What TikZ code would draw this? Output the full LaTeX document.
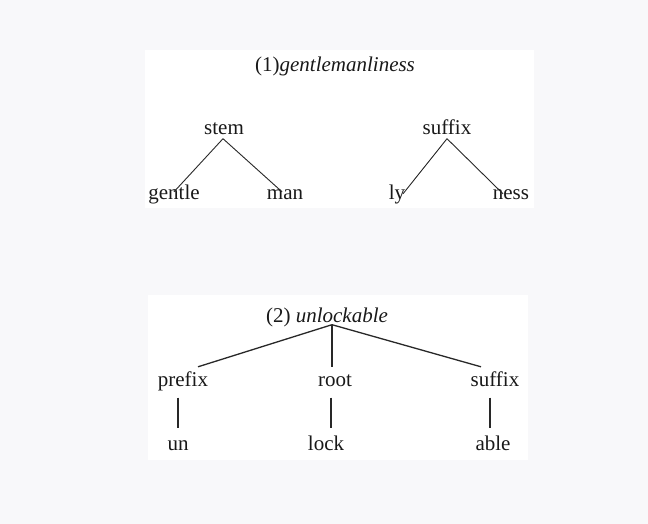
\documentclass[tikz,border=0pt]{standalone}
\usepackage{fontspec}
\setmainfont{Liberation Serif}
\usetikzlibrary{calc}
\definecolor{bgc}{RGB}{248,248,250}
\definecolor{txt}{RGB}{25,25,25}
\definecolor{ln}{RGB}{40,40,40}
\begin{document}
\begin{tikzpicture}[x=1pt,y=-1pt,
  word/.style={anchor=base,inner sep=0pt,text height=0.7em,text depth=0.25em,text=txt,font=\fontsize{21}{25}\selectfont},
  edgeone/.style={draw=ln,line width=0.9pt},
  edgetwo/.style={draw=ln,line width=1.3pt}]
\fill[bgc] (0,0) rectangle (648,524);
\useasboundingbox (0,0) rectangle (648,524);
\fill[white] (145,50) rectangle (534,208);
\fill[white] (148,295) rectangle (528,460);
% tree 1
\node[word] (t1) at (335,72) {(1)\textit{gentlemanliness}};
\node[word] (stem) at (224,135) {stem};
\node[word] (suf1) at (447,135) {suffix};
\node[word] (gentle) at (174,199) {gentle};
\node[word] (man) at (285,199) {man};
\node[word] (ly) at (397,199) {ly};
\node[word] (ness) at (511,199) {ness};
\draw[edgeone] ([xshift=-1pt,yshift=-1pt]stem.south) -- (gentle.north);
\draw[edgeone] ([xshift=-1pt,yshift=-1pt]stem.south) -- ([xshift=-3pt]man.north);
\draw[edgeone] ([yshift=-1pt]suf1.south) -- ([xshift=6pt,yshift=-2pt]ly.north);
\draw[edgeone] ([yshift=-1pt]suf1.south) -- ([xshift=-8pt,yshift=-2pt]ness.north);
% tree 2
\node[word] (t2) at (327,322) {(2) \textit{unlockable}};
\node[word] (prefix) at (183,386) {prefix};
\node[word] (root) at (335,386) {root};
\node[word] (suf2) at (495,386) {suffix};
\node[word] (un) at (178,450) {un};
\node[word] (lock) at (326,450) {lock};
\node[word] (able) at (493,450) {able};
\draw[edgetwo] ([xshift=5pt]t2.south) -- ([xshift=15pt,yshift=12pt]prefix.north);
\draw[edgetwo] ([xshift=5pt]t2.south) -- ([xshift=-3pt,yshift=12pt]root.north);
\draw[edgetwo] ([xshift=5pt]t2.south) -- ([xshift=-14pt,yshift=12pt]suf2.north);
\draw[edgetwo] ([xshift=-5pt,yshift=-9pt]prefix.south) -- ([yshift=15pt]un.north);
\draw[edgetwo] ([xshift=-4pt,yshift=-9pt]root.south) -- ([xshift=5pt,yshift=15pt]lock.north);
\draw[edgetwo] ([xshift=-5pt,yshift=-9pt]suf2.south) -- ([xshift=-3pt,yshift=15pt]able.north);
\end{tikzpicture}
\end{document}
